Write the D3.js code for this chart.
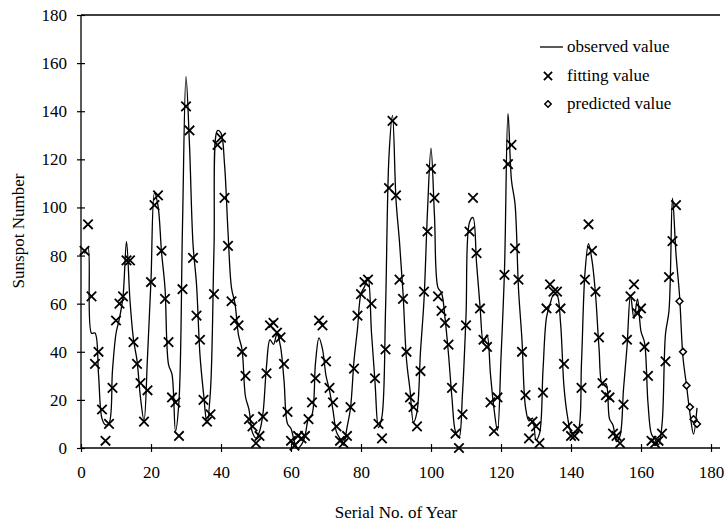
<!DOCTYPE html>
<html>
<head>
<meta charset="utf-8">
<script src="https://cdn.jsdelivr.net/npm/d3@7"></script>
<style>
  body { margin: 0; background: #fff; }
  svg text { font-family: "Liberation Serif", "Times New Roman", serif; fill: #000; }
</style>
</head>
<body>
<svg id="chart" width="726" height="527"></svg>
<script>
// observed yearly sunspot numbers, serial 1..176
const observed = [80.9, 83.4, 47.7, 47.8, 30.7, 12.2, 9.6, 10.2, 32.4, 47.6,
  54.0, 62.9, 85.9, 61.2, 45.1, 36.4, 20.9, 11.4, 37.8, 69.8,
  106.1, 100.8, 81.6, 66.5, 34.8, 30.6, 7.0, 19.8, 92.5, 154.4,
  125.9, 84.8, 68.1, 38.5, 22.8, 10.2, 24.1, 82.9, 132.0, 130.9,
  118.1, 89.9, 66.6, 60.0, 46.9, 41.0, 21.3, 16.0, 6.4, 4.1,
  6.8, 14.5, 34.0, 45.0, 43.1, 47.5, 42.2, 28.1, 10.1, 8.1,
  2.5, 0.0, 1.4, 5.0, 12.2, 13.9, 35.4, 45.8, 41.1, 30.1,
  23.9, 15.6, 6.6, 4.0, 1.8, 8.5, 16.6, 36.3, 49.6, 64.2,
  67.0, 70.9, 47.8, 27.5, 8.5, 13.2, 56.9, 121.5, 138.3, 103.2,
  85.7, 64.6, 36.7, 24.2, 10.7, 15.0, 40.1, 61.5, 98.5, 124.7,
  96.3, 66.6, 64.5, 54.1, 39.0, 20.6, 6.7, 4.3, 22.7, 54.8,
  93.8, 95.8, 77.2, 59.1, 44.0, 47.0, 30.5, 16.3, 7.3, 37.6,
  74.0, 139.0, 111.2, 101.6, 66.2, 44.7, 17.0, 11.3, 12.4, 3.4,
  6.0, 32.3, 54.3, 59.7, 63.7, 63.5, 52.2, 25.4, 13.1, 6.8,
  6.3, 7.1, 35.6, 73.0, 84.9, 78.0, 64.0, 41.8, 26.2, 26.7,
  12.1, 9.5, 2.7, 5.0, 24.4, 42.0, 63.5, 53.8, 62.0, 48.5,
  43.9, 18.6, 5.7, 3.6, 1.4, 9.6, 47.4, 57.1, 103.9, 80.6,
  63.6, 37.6, 26.1, 14.2, 5.8, 16.7];

// fitting values, serial 1..170 (null = no marker visible)
const fitting = [82, 93, 63, 35, 40, 16, 3, 10, 25, 53,
  60, 63, 78, 78, 44, 35, 27, 11, 24, 69,
  101, 105, 82, 62, 44, 21, 19, 5, 66, 142,
  132, 79, 55, 45, 20, 11, 14, 64, 126, 129,
  104, 84, 61, 53, 51, 40, 30, 12, 9, 2,
  5, 13, 31, 51, 52, 48, 46, 35, 15, 3,
  1, 5, 4, 5, 12, 19, 29, 53, 51, 36,
  25, 19, 9, 3, 2, 5, 17, 33, 55, 64,
  69, 70, 60, 29, 10, 4, 41, 108, 136, 105,
  70, 62, 40, 21, 17, 9, 32, 65, 90, 116,
  104, 63, 57, 52, 43, 25, 6, 0, 14, 51,
  90, 104, 81, 58, 45, 42, 19, 7, 21, null,
  72, 118, 126, 83, 70, 40, 22, 4, 11, 9,
  2, 23, 58, 68, 65, 65, 58, 35, 9, 5,
  5, 8, 25, 70, 93, 82, 65, 46, 27, 22,
  21, 6, 5, 2, 18, 45, 63, 68, 56, 58,
  42, 30, 3, 2, 3, 6, 36, 71, 86, 101];

// predicted values, serial 171..176
const predictedStart = 171;
const predicted = [61, 40, 26, 17, 12, 10];

const xTicks = [0, 20, 40, 60, 80, 100, 120, 140, 160, 180];
const yTicks = [0, 20, 40, 60, 80, 100, 120, 140, 160, 180];

const svg = d3.select("#chart");
const margin = { top: 15, right: 15, bottom: 79, left: 81 };
const plotRight = 711;
const plotBottom = 448;

const x = d3.scaleLinear().domain([0, 180]).range([margin.left, plotRight]);
const y = d3.scaleLinear().domain([0, 180]).range([plotBottom, margin.top]);

// frame: top border and axis lines
svg.append("line")
  .attr("x1", margin.left).attr("x2", 720)
  .attr("y1", margin.top).attr("y2", margin.top)
  .attr("stroke", "#000").attr("stroke-width", 1.3);

const yAxis = svg.append("g")
  .attr("transform", `translate(${margin.left},0)`)
  .call(d3.axisLeft(y).tickValues(yTicks).tickSize(4).tickSizeOuter(0));
yAxis.select(".domain").remove();
yAxis.selectAll(".tick line").attr("x1", -4).attr("x2", 4).attr("stroke-width", 1.2);
yAxis.selectAll(".tick text")
  .attr("x", -14)
  .style("font-size", "17px")
  .style("font-family", "'Liberation Serif', serif");

const xAxis = svg.append("g")
  .attr("transform", `translate(0,${plotBottom})`)
  .call(d3.axisBottom(x).tickValues(xTicks).tickSize(4).tickSizeOuter(0));
xAxis.select(".domain").remove();
xAxis.selectAll(".tick line").attr("y1", -4).attr("y2", 4).attr("stroke-width", 1.2);
xAxis.selectAll(".tick text")
  .attr("y", 18)
  .style("font-size", "17px")
  .style("font-family", "'Liberation Serif', serif");

svg.append("line")
  .attr("x1", margin.left).attr("x2", margin.left)
  .attr("y1", margin.top).attr("y2", plotBottom)
  .attr("stroke", "#000").attr("stroke-width", 1.3);
svg.append("line")
  .attr("x1", margin.left).attr("x2", 720)
  .attr("y1", plotBottom).attr("y2", plotBottom)
  .attr("stroke", "#000").attr("stroke-width", 1.3);

// observed line (smoothed)
const line = d3.line()
  .x((d, i) => x(i + 1))
  .y((d) => y(d))
  .curve(d3.curveCatmullRom.alpha(0.5));

svg.append("path")
  .datum(observed)
  .attr("fill", "none")
  .attr("stroke", "#000")
  .attr("stroke-width", 1.3)
  .attr("d", line);

// fitting markers (x)
const cross = d3.symbol().type(d3.symbolX).size(60);
svg.append("g")
  .selectAll("path")
  .data(fitting.map((v, i) => ({ s: i + 1, v })).filter((d) => d.v !== null))
  .join("path")
  .attr("transform", (d) => `translate(${x(d.s)},${y(d.v)})`)
  .attr("d", cross)
  .attr("fill", "none")
  .attr("stroke", "#000")
  .attr("stroke-width", 1.8);

// predicted markers (diamond)
const diamond = d3.symbol().type(d3.symbolDiamond2).size(30);
svg.append("g")
  .selectAll("path")
  .data(predicted.map((v, i) => ({ s: predictedStart + i, v })))
  .join("path")
  .attr("transform", (d) => `translate(${x(d.s)},${y(d.v)})`)
  .attr("d", diamond)
  .attr("fill", "#fff")
  .attr("stroke", "#000")
  .attr("stroke-width", 1.5);

// legend
const legend = svg.append("g").style("font-size", "17px");
legend.append("line")
  .attr("x1", 540).attr("x2", 563).attr("y1", 47).attr("y2", 47)
  .attr("stroke", "#000").attr("stroke-width", 1.3);
legend.append("text").attr("x", 567).attr("y", 52).text("observed value");
legend.append("path")
  .attr("transform", "translate(548,76)")
  .attr("d", d3.symbol().type(d3.symbolX).size(45))
  .attr("fill", "none").attr("stroke", "#000").attr("stroke-width", 1.8);
legend.append("text").attr("x", 567).attr("y", 81).text("fitting value");
legend.append("path")
  .attr("transform", "translate(548,104)")
  .attr("d", d3.symbol().type(d3.symbolDiamond2).size(26))
  .attr("fill", "#fff").attr("stroke", "#000").attr("stroke-width", 1.5);
legend.append("text").attr("x", 567).attr("y", 109).text("predicted value");

// axis titles
svg.append("text")
  .attr("x", 396).attr("y", 518)
  .attr("text-anchor", "middle")
  .style("font-size", "17px")
  .text("Serial No. of Year");
svg.append("text")
  .attr("transform", "translate(24,231) rotate(-90)")
  .attr("text-anchor", "middle")
  .style("font-size", "17px")
  .text("Sunspot Number");
</script>
</body>
</html>
